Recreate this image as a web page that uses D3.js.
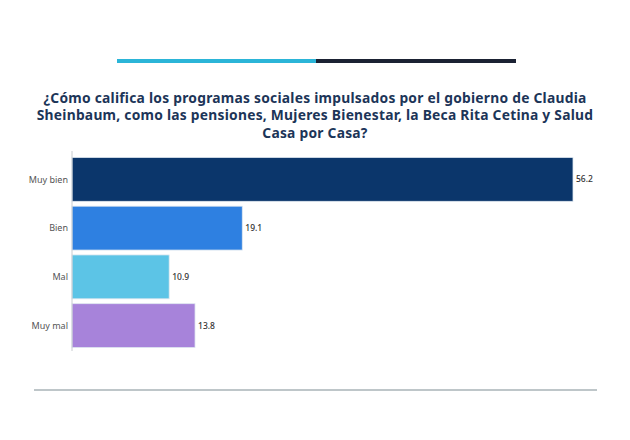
<!DOCTYPE html>
<html>
<head>
<meta charset="utf-8">
<script src="https://cdn.jsdelivr.net/npm/d3@7"></script>
<style>
	body { margin: 0; background: #fff; }
	svg { display: block; font-family: "Noto Sans", "Open Sans", sans-serif; }
</style>
</head>
<body>
<svg id="chart" width="630" height="440"></svg>
<script>
var categories = ["Muy bien", "Bien", "Mal", "Muy mal"];
var values = [56.2, 19.1, 10.9, 13.8];
var colors = ["#0b366b", "#2e80e1", "#5cc4e6", "#a783da"];
var titleLines = [
	"¿Cómo califica los programas sociales impulsados por el gobierno de Claudia",
	"Sheinbaum, como las pensiones, Mujeres Bienestar, la Beca Rita Cetina y Salud",
	"Casa por Casa?"
];

var svg = d3.select("#chart");

// decorative bar on top
svg.append("rect").attr("x", 117).attr("y", 59).attr("width", 199).attr("height", 4).attr("fill", "#2bb5d8");
svg.append("rect").attr("x", 316).attr("y", 59).attr("width", 200).attr("height", 4).attr("fill", "#1b2233");

// title
svg.append("g").selectAll("text").data(titleLines).enter().append("text")
	.attr("x", 315)
	.attr("y", function(d, i){ return 102.5 + i * 17.8; })
	.attr("text-anchor", "middle")
	.attr("font-size", 13.8)
	.attr("letter-spacing", 0.25)
	.attr("font-weight", "bold")
	.attr("fill", "#1c3558")
	.text(function(d){ return d; });

var x0 = 72;
var x = d3.scaleLinear().domain([0, 56.2]).range([x0, 573]);
var y = d3.scaleBand().domain(categories).range([155, 350]).paddingInner(0.1).paddingOuter(0.05);

var g = svg.append("g");

g.selectAll("rect.bar").data(values).enter().append("rect")
	.attr("class", "bar")
	.attr("x", x0)
	.attr("y", function(d, i){ return y(categories[i]); })
	.attr("width", function(d){ return x(d) - x0; })
	.attr("height", y.bandwidth())
	.attr("fill", function(d, i){ return colors[i]; })
	.attr("stroke", "#dfe8f0")
	.attr("stroke-width", 0.8);

// axis line
g.append("line").attr("x1", x0).attr("x2", x0).attr("y1", 151).attr("y2", 351)
	.attr("stroke", "#c8ccd0").attr("stroke-width", 1);

// category labels
g.selectAll("text.cat").data(categories).enter().append("text")
	.attr("class", "cat")
	.attr("x", x0 - 4)
	.attr("y", function(d){ return y(d) + y.bandwidth() / 2; })
	.attr("dy", "0.35em")
	.attr("text-anchor", "end")
	.attr("font-size", 9)
	.attr("fill", "#555")
	.text(function(d){ return d; });

// value labels
g.selectAll("text.val").data(values).enter().append("text")
	.attr("class", "val")
	.attr("x", function(d){ return x(d) + 3; })
	.attr("y", function(d, i){ return y(categories[i]) + y.bandwidth() / 2; })
	.attr("dy", "0.35em")
	.attr("font-size", 8.5)
	.attr("font-weight", 500)
	.attr("fill", "#333")
	.text(function(d){ return d.toFixed(1); });

// bottom rule
svg.append("line").attr("x1", 34).attr("x2", 597).attr("y1", 390).attr("y2", 390)
	.attr("stroke", "#a9b3b7").attr("stroke-width", 1.5);
</script>
</body>
</html>
